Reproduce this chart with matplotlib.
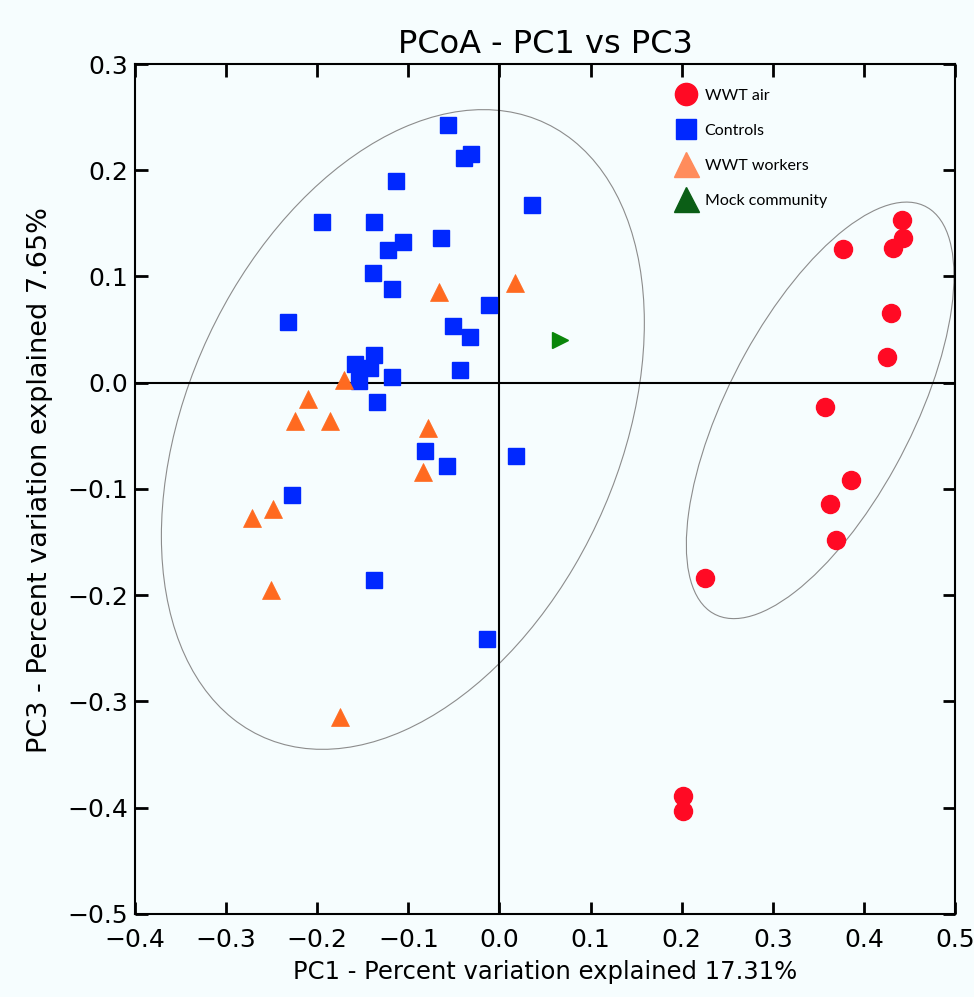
"""PCoA ordination, PC1 vs PC3, with group ellipses."""

import matplotlib
matplotlib.use("Agg")
from matplotlib import pyplot as plt
from matplotlib.patches import Ellipse
from matplotlib.lines import Line2D

# WWT air samples
air_pc1 = [0.442, 0.443, 0.432, 0.377, 0.430, 0.425, 0.357, 0.386, 0.363, 0.369, 0.226, 0.201, 0.202]
air_pc3 = [0.153, 0.136, 0.127, 0.126, 0.066, 0.024, -0.023, -0.092, -0.114, -0.148, -0.184, -0.389, -0.403]

# Controls
ctrl_pc1 = [-0.056, -0.039, -0.031, -0.114, -0.195, -0.138, -0.064, -0.106, -0.122, -0.139,
            -0.118, -0.232, -0.011, -0.051, -0.032, 0.036, -0.043, -0.138, -0.158, -0.142,
            -0.154, -0.118, -0.134, -0.082, -0.058, 0.018, -0.228, -0.138, -0.014]
ctrl_pc3 = [0.243, 0.212, 0.215, 0.190, 0.151, 0.151, 0.136, 0.132, 0.125, 0.103,
            0.088, 0.057, 0.073, 0.053, 0.043, 0.167, 0.012, 0.026, 0.018, 0.014,
            0.002, 0.005, -0.018, -0.064, -0.078, -0.069, -0.106, -0.186, -0.241]

# WWT workers
work_pc1 = [-0.066, 0.017, -0.171, -0.210, -0.224, -0.186, -0.078, -0.084, -0.249, -0.272, -0.251, -0.175]
work_pc3 = [0.085, 0.094, 0.003, -0.015, -0.036, -0.036, -0.043, -0.084, -0.119, -0.127, -0.195, -0.315]

# Mock community
mock_pc1 = [0.066]
mock_pc3 = [0.040]

# group ellipses: centre, width, height, angle (data units)
ell_left = ((-0.106, -0.044), 0.660, 0.456, 55.5)
ell_right = ((0.352, -0.026), 0.449, 0.196, 57.2)

bg = "#f6fdfe"
red = "#ff0a24"
blue = "#0028ff"
orange = "#ff6a20"
green = "#0a860a"

fig = plt.figure(figsize=(9.74, 9.97), dpi=100, facecolor=bg)
ax = fig.add_axes([0.1386, 0.0833, 0.8419, 0.8525], facecolor=bg)

for (c, w, h, a) in (ell_left, ell_right):
    ax.add_patch(Ellipse(c, w, h, angle=a, fill=False, ec="#8c8c8c", lw=0.8, zorder=1))

ax.axhline(0, color="black", lw=1.5, zorder=2)
ax.axvline(0, color="black", lw=1.5, zorder=2)

ax.plot(ctrl_pc1, ctrl_pc3, ls="none", marker="s", ms=11.5, mfc=blue, mec=blue,
        mew=1, zorder=3)
ax.plot(work_pc1, work_pc3, ls="none", marker="^", ms=12.5, mfc=orange, mec=orange,
        mew=0.5, zorder=3)
ax.plot(air_pc1, air_pc3, ls="none", marker="o", ms=13, mfc=red, mec=red, zorder=3)
ax.plot(mock_pc1, mock_pc3, ls="none", marker=">", ms=11, mfc=green, mec=green, zorder=3)

ax.set_xlim(-0.4, 0.5)
ax.set_ylim(-0.5, 0.3)
ax.set_xticks([-0.4, -0.3, -0.2, -0.1, 0.0, 0.1, 0.2, 0.3, 0.4, 0.5])
ax.set_yticks([-0.5, -0.4, -0.3, -0.2, -0.1, 0.0, 0.1, 0.2, 0.3])
ax.tick_params(direction="in", length=9, width=2, labelsize=18,
               top=True, right=True, pad=5)
ax.tick_params(axis="x", pad=10)
for sp in ax.spines.values():
    sp.set_linewidth(1.5)

ax.set_title("PCoA - PC1 vs PC3", fontsize=23, pad=8)
ax.set_xlabel("PC1 - Percent variation explained 17.31%", fontsize=17.5, labelpad=6)
ax.set_ylabel("PC3 - Percent variation explained 7.65%", fontsize=19.5)
ax.yaxis.set_label_coords(-0.1, 0.51)

handles = [
    Line2D([], [], ls="none", marker="o", ms=16, mfc="#ff0a24", mec="#ff0a24"),
    Line2D([], [], ls="none", marker="s", ms=15, mfc="#0028ff", mec="#0028ff"),
    Line2D([], [], ls="none", marker="^", ms=18, mfc="#ff8c5c", mec="#ff8c5c"),
    Line2D([], [], ls="none", marker="^", ms=18, mfc="#0b5e16", mec="#0b5e16"),
]
labels = ["WWT air", "Controls", "WWT workers", "Mock community"]
ax.legend(handles, labels, loc="upper left", bbox_to_anchor=(0.64, 0.988),
          frameon=False, prop={"family": "Lato", "size": 11.5}, labelspacing=1.3,
          handletextpad=0.4, handlelength=1.5)

fig.savefig("out.png", dpi=100, facecolor=bg)
